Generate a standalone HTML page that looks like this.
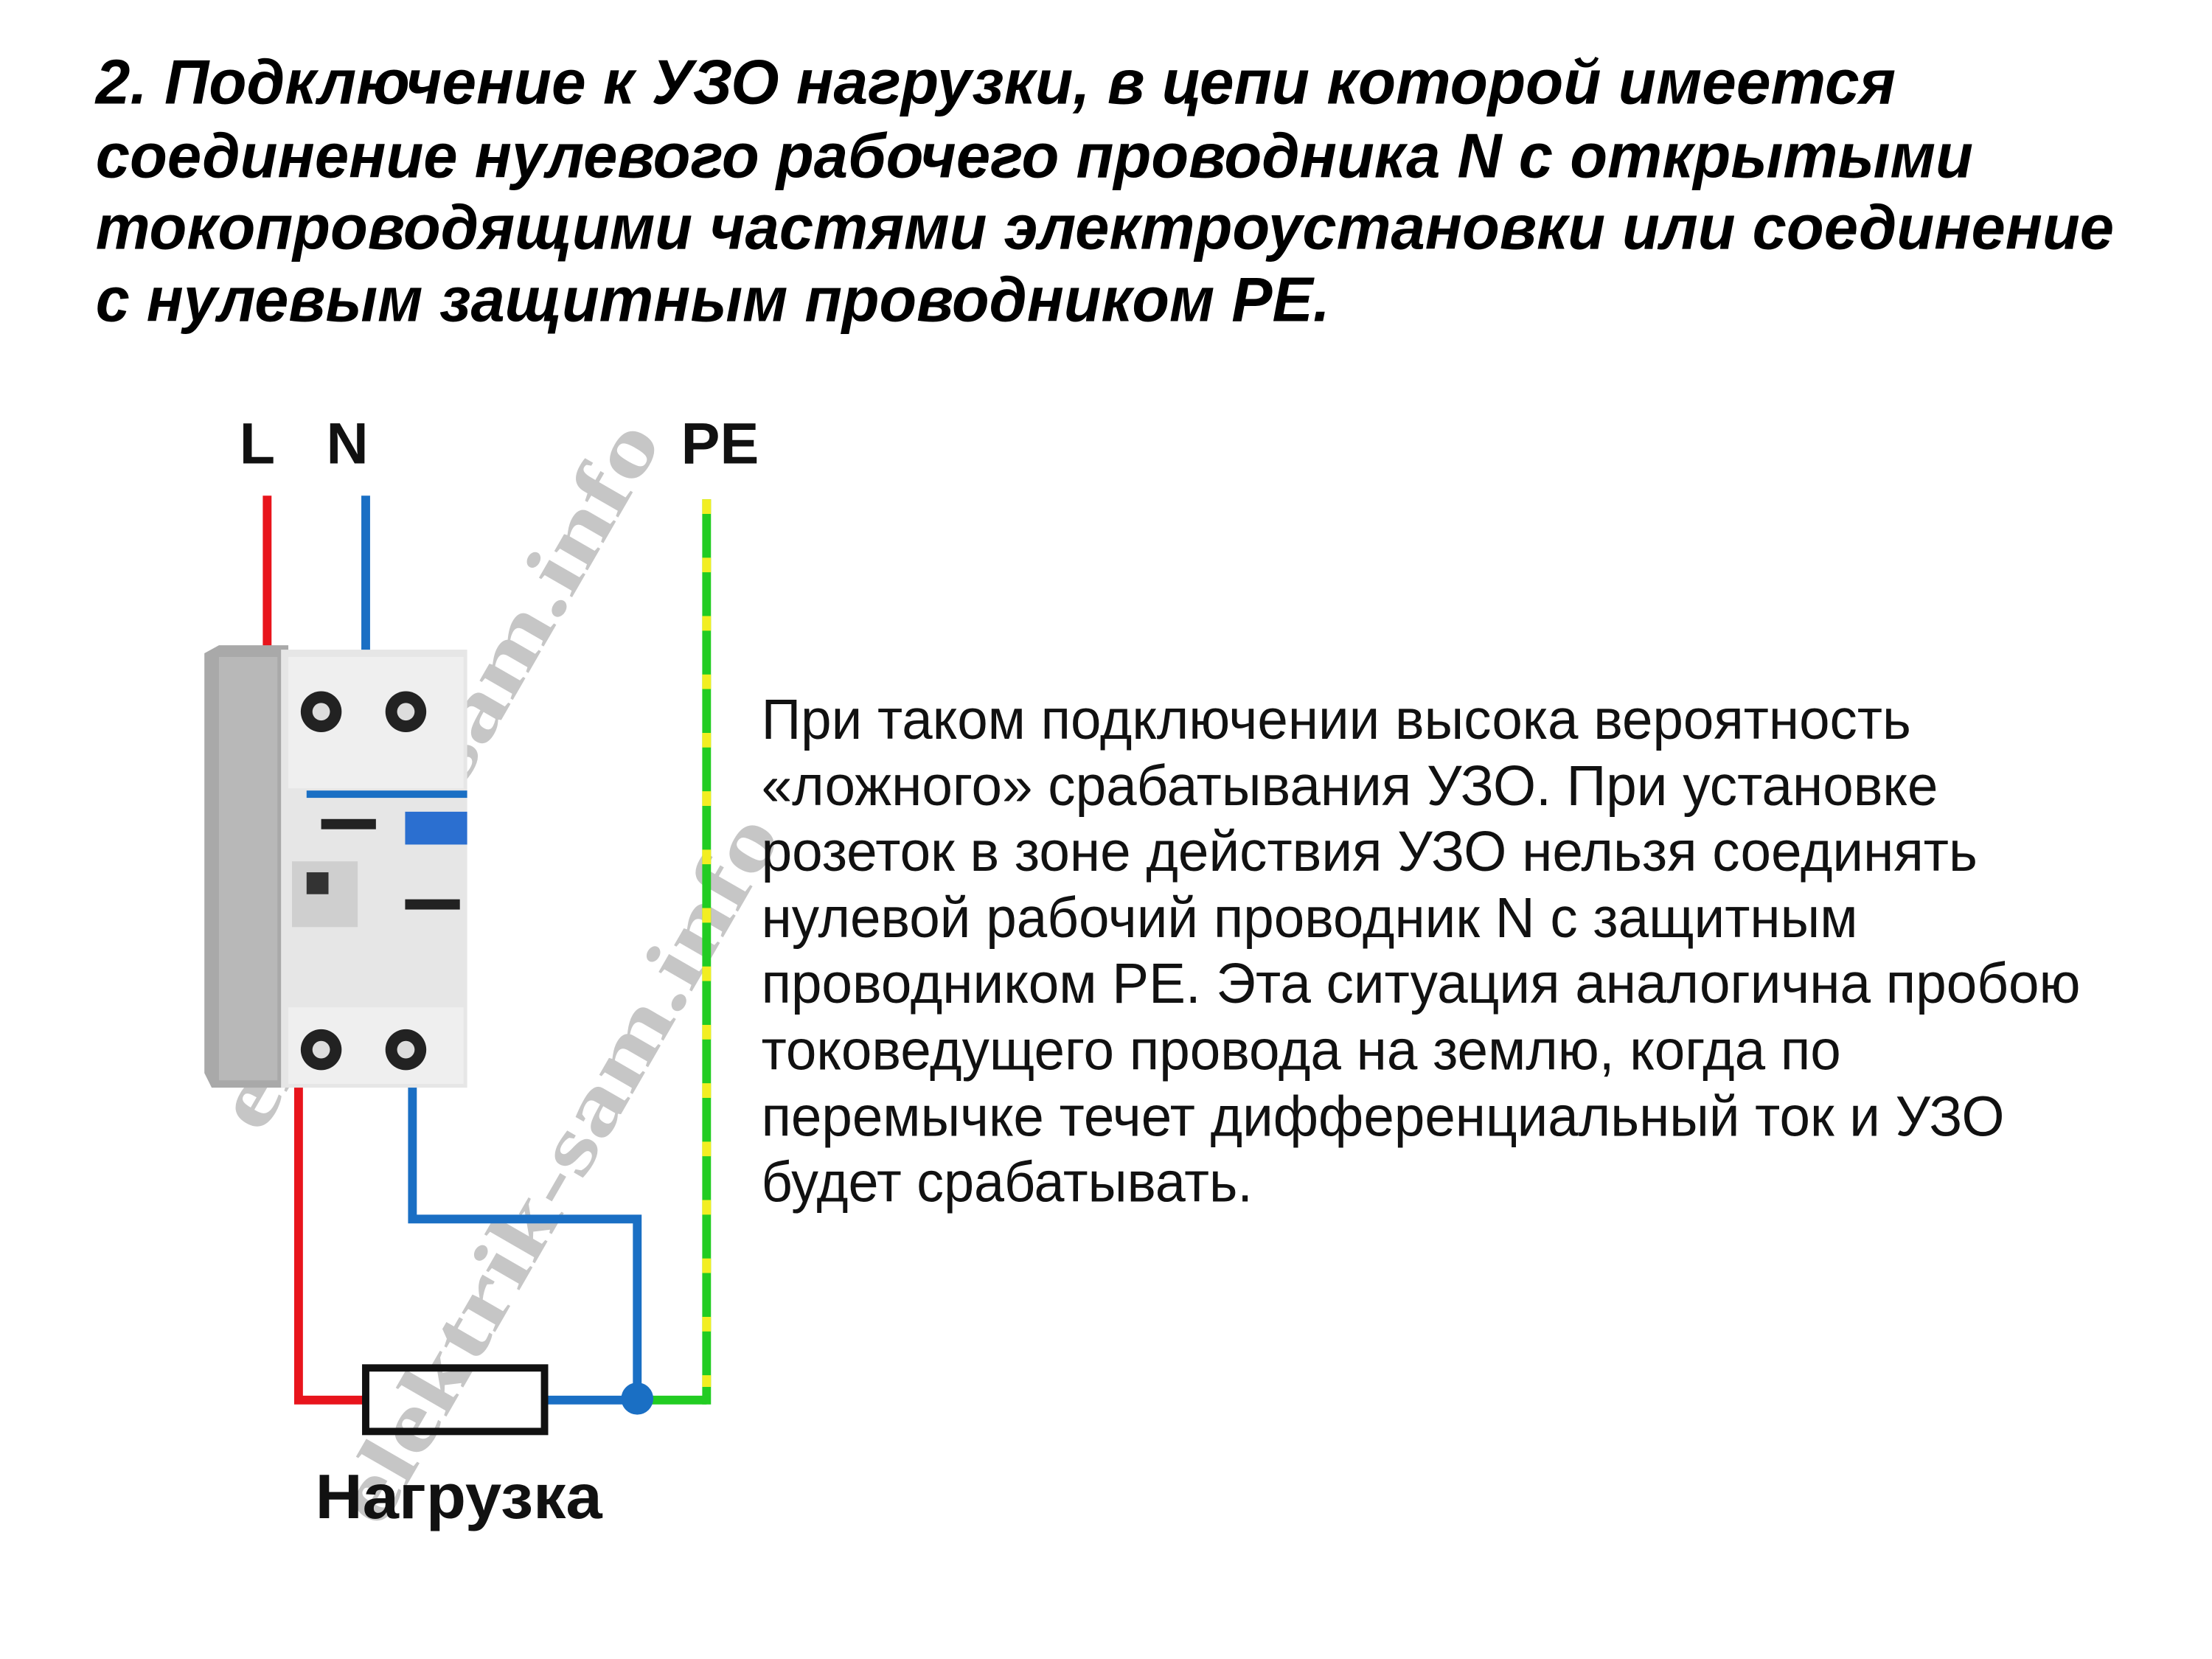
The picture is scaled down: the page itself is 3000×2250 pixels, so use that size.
<!DOCTYPE html>
<html><head><meta charset="utf-8"><style>
html,body{margin:0;padding:0;background:#fff;}
svg{display:block;}
</style></head><body>
<svg width="3000" height="2250" viewBox="0 0 3000 2250" xmlns="http://www.w3.org/2000/svg">
<rect width="3000" height="2250" fill="#fff"/>
<g transform="scale(0.99)">
<g font-family="Liberation Sans, sans-serif" font-weight="bold" font-style="italic" font-size="86" fill="#000">
<text x="131" y="142" textLength="2466" lengthAdjust="spacingAndGlyphs">2.  Подключение к УЗО нагрузки, в цепи которой имеется</text>
<text x="131" y="243" textLength="2572" lengthAdjust="spacingAndGlyphs">соединение нулевого рабочего проводника N с открытыми</text>
<text x="131" y="341" textLength="2765" lengthAdjust="spacingAndGlyphs">токопроводящими частями электроустановки или соединение</text>
<text x="131" y="440" textLength="1691" lengthAdjust="spacingAndGlyphs">с нулевым защитным проводником РЕ.</text>
</g>
<g font-family="Liberation Serif, serif" font-weight="bold" font-size="115" fill="#bdbdbd" opacity="0.85">
<text x="598" y="1100" text-anchor="middle" transform="rotate(-60 598 1060)" textLength="1100" lengthAdjust="spacingAndGlyphs">elektrik-sam.info</text>
<text x="762" y="1640" text-anchor="middle" transform="rotate(-60 762 1600)" textLength="1100" lengthAdjust="spacingAndGlyphs">elektrik-sam.info</text>
</g>
<g font-family="Liberation Sans, sans-serif" font-weight="bold" font-size="80" fill="#111">
<text x="328" y="635">L</text>
<text x="447" y="635">N</text>
<text x="933" y="635">PE</text>
</g>
<g fill="none" stroke-width="12">
<line x1="366" y1="679" x2="366" y2="900" stroke="#e8141c"/>
<line x1="501" y1="679" x2="501" y2="900" stroke="#1a6fc4"/>
<polyline points="409,1480 409,1918 501,1918" stroke="#e8141c"/>
<polyline points="565,1470 565,1670 873,1670 873,1918 746,1918" stroke="#1a6fc4"/>
<line x1="873" y1="1918" x2="968" y2="1918" stroke="#22cc22"/>
<line x1="968" y1="684" x2="968" y2="1924" stroke="#22cc22"/>
<line x1="968" y1="684" x2="968" y2="1900" stroke="#f2ee22" stroke-dasharray="20 60"/>
</g>
<circle cx="873" cy="1916" r="22" fill="#1a6fc4"/>
<rect x="501" y="1874" width="245" height="87" fill="#fff" fill-opacity="0" stroke="#111" stroke-width="10"/>
<text x="432" y="2080" font-family="Liberation Sans, sans-serif" font-weight="bold" font-size="86" fill="#111" textLength="393" lengthAdjust="spacingAndGlyphs">Нагрузка</text>
<g>
<path d="M280 895 L300 884 L395 884 L395 1490 L290 1490 L280 1470 Z" fill="#a9a9a9"/>
<rect x="300" y="900" width="80" height="580" fill="#b8b8b8"/>
<rect x="385" y="890" width="255" height="600" fill="#e6e6e6"/>
<rect x="395" y="900" width="240" height="180" fill="#efefef"/>
<circle cx="440" cy="975" r="28" fill="#222"/><circle cx="440" cy="975" r="12" fill="#ddd"/>
<circle cx="556" cy="975" r="28" fill="#222"/><circle cx="556" cy="975" r="12" fill="#ddd"/>
<rect x="420" y="1083" width="220" height="10" fill="#1a6fc4"/>
<rect x="440" y="1122" width="75" height="14" fill="#222"/>
<rect x="555" y="1112" width="85" height="45" fill="#2b6fd0"/>
<rect x="400" y="1180" width="90" height="90" fill="#cfcfcf"/>
<rect x="420" y="1195" width="30" height="30" fill="#333"/>
<rect x="555" y="1232" width="75" height="14" fill="#222"/>
<rect x="395" y="1380" width="240" height="105" fill="#efefef"/>
<circle cx="440" cy="1438" r="28" fill="#222"/><circle cx="440" cy="1438" r="12" fill="#ddd"/>
<circle cx="556" cy="1438" r="28" fill="#222"/><circle cx="556" cy="1438" r="12" fill="#ddd"/>
</g>
<g font-family="Liberation Sans, sans-serif" font-size="78" fill="#111">
<text x="1043" y="1012" textLength="1575" lengthAdjust="spacingAndGlyphs">При таком подключении высока вероятность</text>
<text x="1043" y="1103" textLength="1612" lengthAdjust="spacingAndGlyphs">«ложного» срабатывания УЗО. При установке</text>
<text x="1043" y="1193" textLength="1666" lengthAdjust="spacingAndGlyphs">розеток в зоне действия УЗО нельзя соединять</text>
<text x="1043" y="1284" textLength="1502" lengthAdjust="spacingAndGlyphs">нулевой рабочий проводник N с защитным</text>
<text x="1043" y="1374" textLength="1807" lengthAdjust="spacingAndGlyphs">проводником PE. Эта ситуация аналогична пробою</text>
<text x="1043" y="1465" textLength="1479" lengthAdjust="spacingAndGlyphs">токоведущего провода на землю, когда по</text>
<text x="1043" y="1556" textLength="1703" lengthAdjust="spacingAndGlyphs">перемычке течет дифференциальный ток и УЗО</text>
<text x="1043" y="1646" textLength="673" lengthAdjust="spacingAndGlyphs">будет срабатывать.</text>
</g>
</g>
</svg>
</body></html>
